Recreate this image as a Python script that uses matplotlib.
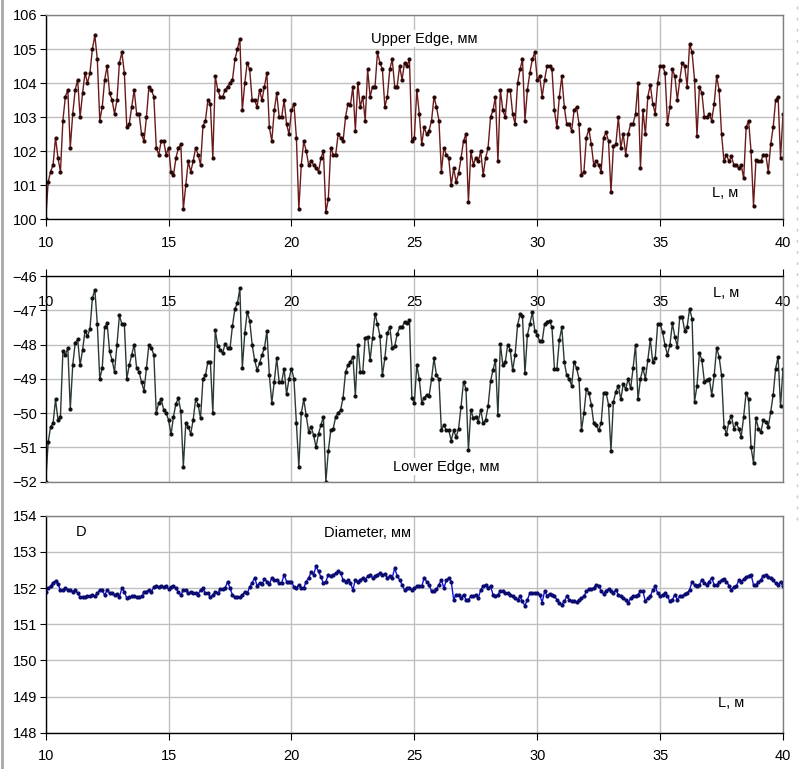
import numpy as np
import matplotlib
matplotlib.use("Agg")
import matplotlib.pyplot as plt
from matplotlib.lines import Line2D

plt.rcParams['font.family'] = ['Liberation Sans', 'DejaVu Sans']

# position along the part, m (step 0.1)
L = np.round(np.arange(100, 401) / 10.0, 1)

upper = [
    100.0, 101.1, 101.4, 101.6, 102.4, 101.8, 101.4, 102.9, 103.6, 103.8,
    102.1, 103.1, 103.8, 104.1, 103.0, 103.7, 104.3, 104.0, 104.3, 105.0,
    105.4, 104.7, 102.9, 103.3, 104.1, 104.5, 103.7, 103.5, 103.1, 103.5,
    104.6, 104.9, 104.3, 102.7, 102.8, 103.3, 103.8, 103.1, 103.1, 102.5,
    102.3, 103.0, 103.9, 103.8, 103.6, 102.1, 101.9, 102.3, 102.3, 101.9,
    102.1, 101.4, 101.3, 101.8, 102.1, 102.2, 100.3, 101.0, 101.7, 101.4,
    101.7, 102.1, 101.9, 101.6, 102.75, 102.9, 103.5, 103.4, 101.8, 104.2,
    103.8, 103.6, 103.6, 103.8, 103.9, 104.0, 104.1, 104.7, 105.0, 105.3,
    103.2, 104.0, 104.6, 104.4, 103.5, 103.5, 103.3, 103.8, 103.5, 103.9,
    104.3, 102.7, 102.3, 103.2, 103.7, 103.0, 103.0, 103.5, 102.8, 102.5,
    103.2, 103.4, 102.4, 100.3, 101.6, 102.3, 102.0, 101.6, 101.7, 101.6,
    101.5, 101.4, 101.8, 102.0, 100.2, 100.6, 102.1, 101.9, 101.9, 102.5,
    102.4, 102.3, 103.0, 103.4, 103.35, 103.9, 102.6, 104.0, 103.3, 103.6,
    102.9, 104.4, 103.6, 103.9, 103.9, 104.9, 104.6, 104.4, 103.3, 103.6,
    104.4, 104.7, 103.9, 103.9, 104.5, 104.1, 104.6, 104.5, 104.7, 102.3,
    102.4, 103.8, 103.1, 102.2, 102.7, 102.5, 102.6, 102.9, 103.6, 103.3,
    102.9, 101.4, 102.1, 101.9, 101.8, 101.0, 101.5, 101.1, 101.35, 101.8,
    102.3, 102.5, 100.5, 102.0, 101.6, 101.8, 101.7, 102.0, 101.3, 101.8,
    102.1, 103.0, 103.2, 103.6, 101.7, 103.8, 103.2, 103.0, 103.8, 103.8,
    103.1, 102.8, 104.0, 104.4, 104.7, 102.9, 103.8, 104.3, 104.7, 104.9,
    104.1, 104.2, 103.6, 104.1, 104.5, 104.5, 104.4, 103.2, 102.7, 103.6,
    104.2, 103.3, 102.8, 102.8, 102.6, 103.2, 103.3, 102.8, 101.3, 101.4,
    102.4, 102.65, 102.2, 101.6, 101.7, 101.6, 101.4, 102.4, 102.55, 102.3,
    100.8, 102.15, 102.2, 103.0, 102.1, 102.5, 101.9, 102.5, 102.8, 102.8,
    103.1, 104.0, 101.5, 103.2, 102.5, 103.6, 103.95, 103.4, 103.1, 104.0,
    104.5, 104.5, 104.3, 102.8, 103.3, 104.4, 104.2, 103.5, 104.1, 104.6,
    104.5, 103.9, 105.15, 104.9, 104.1, 102.45, 103.9, 103.7, 103.0, 103.0,
    103.1, 102.9, 103.4, 104.2, 103.8, 102.5, 101.7, 101.9, 101.7, 101.85,
    101.6, 101.6, 101.5, 101.6, 101.2, 102.7, 102.9, 102.0, 100.4, 101.75,
    101.7, 101.7, 101.9, 101.9, 101.4, 102.2, 102.7, 103.5, 103.6, 101.8,
    103.1,
]

lower = [
    -52.0, -50.85, -50.4, -50.3, -49.6, -50.2, -50.1, -48.2, -48.3, -48.1,
    -49.88, -48.6, -47.95, -47.85, -48.6, -48.16, -47.6, -47.75, -47.55, -46.65,
    -46.4, -47.4, -49.0, -48.69, -47.5, -47.38, -48.2, -48.45, -48.8, -48.0,
    -47.15, -47.4, -47.4, -49.0, -48.6, -48.3, -48.0, -48.69, -48.8, -49.1,
    -49.35, -48.69, -48.0, -48.1, -48.3, -50.0, -49.7, -49.6, -49.9, -50.0,
    -50.2, -50.62, -50.1, -49.72, -49.57, -49.95, -51.56, -50.3, -50.4, -50.6,
    -50.2, -49.6, -49.75, -50.15, -49.0, -48.9, -48.5, -48.5, -50.0, -47.58,
    -48.05, -48.15, -48.25, -47.97, -48.1, -48.1, -47.45, -46.95, -46.8, -46.36,
    -48.69, -47.67, -47.05, -47.3, -48.0, -48.45, -48.74, -48.55, -48.3, -48.1,
    -47.6, -48.9, -49.7, -49.08, -48.4, -49.1, -49.1, -48.7, -49.45, -49.0,
    -48.7, -49.0, -50.3, -51.57, -50.0, -49.6, -50.06, -50.54, -50.4, -50.64,
    -51.0, -50.6, -50.35, -50.1, -52.0, -51.1, -50.5, -50.45, -50.1, -50.0,
    -49.9, -49.55, -48.8, -48.6, -48.5, -48.35, -49.5, -48.0, -48.8, -48.8,
    -47.8, -47.77, -48.45, -47.8, -47.1, -47.4, -47.75, -48.9, -48.4, -47.67,
    -47.48, -48.1, -48.05, -47.7, -47.5, -47.5, -47.33, -47.38, -47.28, -49.57,
    -49.7, -48.6, -49.0, -49.7, -49.55, -49.47, -49.5, -49.0, -48.4, -48.9,
    -49.0, -50.5, -50.35, -50.5, -50.5, -50.8, -50.5, -50.7, -50.45, -49.81,
    -49.08, -49.3, -51.08, -49.9, -50.15, -50.1, -50.25, -49.9, -50.3, -50.2,
    -49.8, -49.07, -48.74, -48.45, -50.06, -47.97, -48.6, -48.5, -48.0, -48.15,
    -48.75, -48.3, -47.43, -47.12, -47.17, -48.84, -47.72, -47.4, -47.06, -47.6,
    -47.72, -47.9, -47.9, -47.4, -47.33, -47.3, -47.5, -48.7, -48.7, -47.87,
    -47.5, -48.5, -48.9, -49.0, -49.2, -48.5, -48.69, -48.99, -50.5, -50.0,
    -49.3, -49.4, -49.75, -50.3, -50.35, -50.5, -50.3, -49.4, -49.4, -49.75,
    -51.1, -49.67, -49.37, -49.2, -49.6, -49.15, -49.3, -49.0, -49.28, -48.69,
    -48.0, -49.6, -49.0, -48.69, -49.0, -48.45, -47.85, -48.5, -48.4, -47.4,
    -47.4, -47.64, -48.02, -48.3, -48.0, -47.38, -47.77, -48.06, -47.19, -47.2,
    -47.6, -47.48, -46.95, -47.25, -49.67, -49.2, -48.25, -48.45, -49.08, -49.03,
    -48.99, -49.47, -48.9, -48.1, -48.35, -48.9, -50.4, -50.6, -50.25, -50.07,
    -50.45, -50.3, -50.45, -50.69, -50.1, -49.4, -49.6, -51.0, -51.45, -50.15,
    -50.45, -50.55, -50.2, -50.25, -50.4, -49.96, -49.47, -48.7, -48.35, -49.8,
    -48.7,
]

diameter = [
    151.9, 152.0, 152.05, 152.15, 152.2, 152.1, 151.95, 151.95, 152.0, 151.95,
    151.95, 151.9, 151.95, 151.85, 151.75, 151.75, 151.75, 151.78, 151.77, 151.8,
    151.77, 151.85, 151.95, 151.95, 151.8, 151.95, 151.85, 151.85, 151.8, 151.83,
    151.75, 152.0, 151.9, 151.72, 151.75, 151.77, 151.77, 151.75, 151.75, 151.77,
    151.88, 151.9, 151.95, 151.9, 152.02, 152.06, 152.03, 152.06, 152.03, 152.05,
    151.97, 152.03, 152.05, 152.0, 151.88, 151.8, 151.95, 151.95, 151.85, 151.9,
    151.85, 151.85, 151.82, 151.95, 152.0, 151.85, 151.85, 151.75, 151.8, 151.9,
    151.85, 151.97, 151.97, 152.0, 152.17, 152.0, 151.8, 151.75, 151.75, 151.75,
    151.8, 151.9, 151.85, 152.03, 152.15, 152.28, 152.07, 152.13, 152.1, 152.25,
    152.18, 152.1, 152.28, 152.23, 152.23, 152.14, 152.14, 152.37, 152.18, 152.18,
    152.18, 152.03, 152.0, 152.09, 152.0, 152.0, 152.18, 152.28, 152.43, 152.37,
    152.6, 152.46, 152.3, 152.14, 152.18, 152.37, 152.32, 152.37, 152.41, 152.46,
    152.41, 152.23, 152.18, 152.23, 152.14, 151.95, 152.23, 152.18, 152.23, 152.28,
    152.23, 152.32, 152.37, 152.28, 152.32, 152.37, 152.41, 152.37, 152.39, 152.28,
    152.32, 152.28, 152.55, 152.34, 152.23, 152.09, 151.95, 152.0, 152.0, 151.95,
    152.0, 152.05, 152.07, 152.05, 152.28, 152.18, 152.09, 151.91, 151.91, 151.97,
    152.09, 152.23, 152.0, 152.21, 152.28, 152.18, 151.68, 151.82, 151.82, 151.72,
    151.82, 151.68, 151.68, 151.77, 151.77, 151.82, 151.72, 151.95, 152.05, 152.09,
    152.0, 152.05, 151.82, 151.77, 151.82, 151.91, 151.93, 151.86, 151.86, 151.82,
    151.77, 151.72, 151.68, 151.77, 151.63, 151.51, 151.68, 151.86, 151.86, 151.86,
    151.86, 151.82, 151.6, 151.91, 151.79, 151.84, 151.82, 151.77, 151.68, 151.59,
    151.54, 151.63, 151.77, 151.68, 151.63, 151.63, 151.61, 151.66, 151.72, 151.77,
    151.91, 151.97, 151.97, 152.0, 152.09, 152.07, 151.91, 151.84, 151.93, 151.97,
    151.91, 151.86, 151.95, 151.82, 151.77, 151.72, 151.68, 151.59, 151.72, 151.77,
    151.77, 151.82, 151.91, 151.91, 151.63, 151.72, 151.77, 151.95, 152.05, 151.86,
    151.77, 151.82, 151.86, 151.77, 151.63, 151.68, 151.82, 151.68, 151.77, 151.77,
    151.84, 151.86, 151.95, 152.18, 152.09, 152.07, 152.09, 152.23, 152.14, 152.09,
    152.18, 152.28, 152.09, 152.09, 152.16, 152.23, 152.25, 152.18, 152.07, 151.95,
    152.03, 152.05, 152.21, 152.18, 152.25, 152.3, 152.34, 152.37, 152.09, 152.09,
    152.16, 152.23, 152.34, 152.37, 152.3, 152.28, 152.21, 152.14, 152.09, 152.18,
    152.05,
]

xticks = [10, 15, 20, 25, 30, 35, 40]
W, H = 800, 769

fig = plt.figure(figsize=(W / 100, H / 100), dpi=100)

# grey frame edges of the original sheet
fig.add_artist(Line2D([1.5 / W, 1.5 / W], [0, 1], color='#a8a8a8', lw=2))
fig.add_artist(Line2D([797 / W, 797 / W], [1 - 520 / H, 1], color='#c8c8c8', lw=1, ls=(0, (2, 6))))


def panel(top_px, bot_px):
    return fig.add_axes([45.7 / W, 1 - bot_px / H, (783 - 45.7) / W, (bot_px - top_px) / H])


def style(ax, ylo, yhi, axis_top=False):
    ax.set_xlim(10, 40)
    ax.set_ylim(ylo, yhi)
    ax.set_xticks(xticks)
    ax.set_yticks(range(ylo, yhi + 1))
    ax.grid(True, color='#c0c0c0', lw=1)
    ax.set_axisbelow(True)
    for s in ax.spines.values():
        s.set_color('#808080')
        s.set_linewidth(1)
    ax.spines['left'].set_color('black')
    ax.tick_params(axis='y', direction='out', length=4, labelsize=10.5, pad=2)
    if axis_top:
        ax.spines['top'].set_color('black')
        ax.xaxis.tick_top()
        ax.tick_params(axis='x', direction='out', length=5, labelsize=10.5, pad=-28.5)
    else:
        ax.spines['bottom'].set_color('black')
        ax.tick_params(axis='x', direction='out', length=5, labelsize=10.5, pad=7)


ax1 = panel(15, 219.3)
ax1.plot(L, upper, color='#6b1a1a', lw=1, marker='o', ms=2, mfc='#2a0505', mec='#2a0505')
style(ax1, 100, 106)
ax1.text(25.4, 105.3, 'Upper Edge, мм', ha='center', va='center', fontsize=10.5,
         bbox=dict(facecolor='white', edgecolor='none', pad=1))
ax1.text(37.65, 100.77, 'L, м', ha='center', va='center', fontsize=10.5)

ax2 = panel(276, 481.7)
ax2.plot(L, lower, color='#2a3a30', lw=1, marker='o', ms=2, mfc='#101010', mec='#101010')
style(ax2, -52, -46, axis_top=True)
ax2.text(26.3, -51.56, 'Lower Edge, мм', ha='center', va='center', fontsize=10.5,
         bbox=dict(facecolor='white', edgecolor='none', pad=1))
ax2.text(37.7, -46.5, 'L, м', ha='center', va='center', fontsize=10.5)

ax3 = panel(515.7, 732.7)
ax3.plot(L, diameter, color='#1010e0', lw=1, marker='o', ms=2, mfc='#0a0a70', mec='#0a0a70')
style(ax3, 148, 154)
ax3.text(11.45, 153.56, 'D', ha='center', va='center', fontsize=10.5)
ax3.text(23.1, 153.52, 'Diameter, мм', ha='center', va='center', fontsize=10.5,
         bbox=dict(facecolor='white', edgecolor='none', pad=1))
ax3.text(37.9, 148.83, 'L, м', ha='center', va='center', fontsize=10.5)

fig.savefig('out.png', dpi=100)
